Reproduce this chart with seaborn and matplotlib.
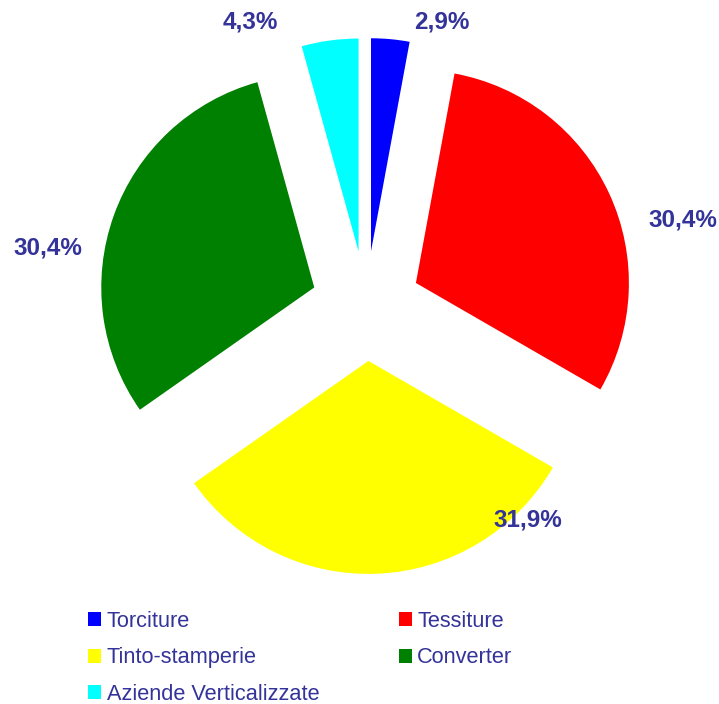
import matplotlib
matplotlib.use("Agg")
import matplotlib.pyplot as plt
from matplotlib.patches import Patch
import numpy as np
import seaborn as sns

categories = ["Torciture", "Tessiture", "Tinto-stamperie", "Converter", "Aziende Verticalizzate"]
shares = [2.9, 30.4, 31.9, 30.4, 4.3]
colors = ["#0000FF", "#FF0000", "#FFFF00", "#008000", "#00FFFF"]

# label placement: angle (deg, clockwise from top) and radius in pie units
label_angle = [15.0, 74.8, 143.0, 280.3, 337.8]
label_radius = [1.38, 1.54, 1.26, 1.52, 1.44]

sns.set_style("white")
plt.rcParams["font.family"] = ["Liberation Sans", "DejaVu Sans"]
text_color = "#333399"

fig = plt.figure(figsize=(7.19, 7.04), dpi=100)
# pie radius ~213 px, center at (366, 306) px
lim = 1.6
w = 2 * lim * 213
ax = fig.add_axes([(366 - w / 2) / 719, (704 - 306 - w / 2) / 704, w / 719, w / 704])

wedges, _ = ax.pie(shares, colors=sns.color_palette(colors), startangle=90, counterclock=False,
                   explode=[0.258] * len(shares), radius=1.0,
                   wedgeprops=dict(linewidth=0))
ax.set_xlim(-lim, lim)
ax.set_ylim(-lim, lim)
ax.set_aspect("equal")
ax.axis("off")

for val, ang, rad in zip(shares, label_angle, label_radius):
    t = np.deg2rad(ang)
    ax.text(rad * np.sin(t), rad * np.cos(t), f"{val:.1f}%".replace(".", ","),
            ha="center", va="center", fontsize=17.5, fontweight="bold",
            color=text_color, clip_on=False)

handles = [Patch(facecolor=c, edgecolor="none", label=n) for n, c in zip(categories, colors)]
order = [0, 2, 4, 1, 3]
leg = fig.legend([handles[i] for i in order], [categories[i] for i in order],
                 ncol=2, loc="upper left", bbox_to_anchor=(88 / 719, 1 - 611 / 704),
                 frameon=False, fontsize=15.7, handlelength=0.6, handleheight=0.6,
                 handletextpad=0.25, columnspacing=3.65, labelspacing=0.7,
                 borderpad=0, borderaxespad=0)
for txt in leg.get_texts():
    txt.set_color(text_color)

fig.savefig("out.png", dpi=100)
